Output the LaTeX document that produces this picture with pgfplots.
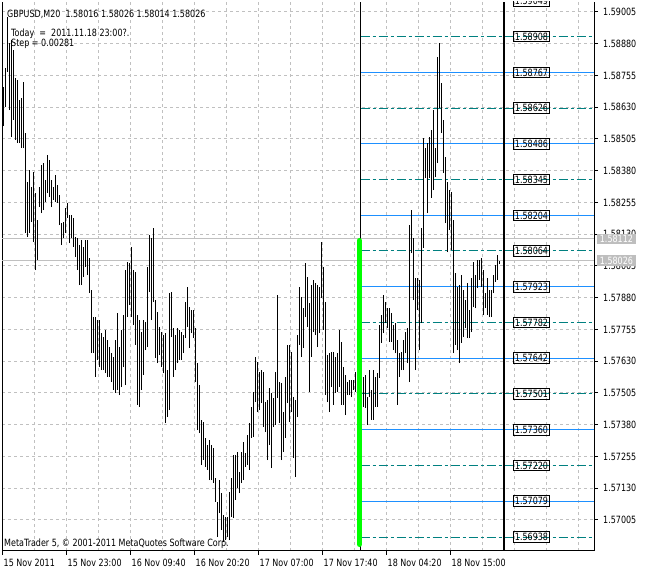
\documentclass[border=0pt]{standalone}
\usepackage{pgfplots}
\pgfplotsset{compat=1.18}
\usepackage{pgfplotstable}
\usepackage{fontspec}
\setmainfont{DejaVu Sans}[FakeStretch=0.8]
\definecolor{gridgray}{RGB}{192,192,192}
\definecolor{boxgray}{RGB}{190,190,190}
\definecolor{lvlblue}{RGB}{30,144,255}
\definecolor{lvlteal}{RGB}{0,128,128}
\definecolor{mtgreen}{RGB}{0,255,0}
\newcommand\mt{\fontsize{10pt}{12pt}\selectfont}
\tikzset{lvlbox/.style={draw=black, line width=1pt, inner xsep=1pt, inner ysep=1.5pt, font=\mt}}

% GBPUSD M20 bars: index, low, high
\pgfplotstableread{
i lo hi
0 1.58556 1.58710
1 1.58631 1.58784
2 1.58769 1.58985
3 1.58619 1.58883
4 1.58513 1.58895
5 1.58580 1.58855
6 1.58501 1.58745
7 1.58489 1.58737
8 1.58489 1.58658
9 1.58469 1.58666
10 1.58469 1.58729
11 1.58135 1.58528
12 1.58119 1.58336
13 1.58135 1.58383
14 1.58178 1.58316
15 1.58099 1.58375
16 1.57989 1.58292
17 1.58028 1.58186
18 1.58237 1.58316
19 1.58213 1.58402
20 1.58225 1.58410
21 1.58257 1.58343
22 1.58292 1.58442
23 1.58276 1.58422
24 1.58237 1.58343
25 1.58265 1.58316
26 1.58257 1.58363
27 1.58253 1.58324
28 1.58166 1.58284
29 1.58087 1.58174
30 1.58115 1.58178
31 1.58135 1.58233
32 1.58194 1.58253
33 1.58095 1.58206
34 1.58115 1.58206
35 1.58080 1.58194
36 1.58040 1.58119
37 1.57989 1.58115
38 1.57930 1.58087
39 1.57930 1.58107
40 1.57962 1.58080
41 1.58001 1.58107
42 1.57969 1.58107
43 1.57898 1.58036
44 1.57662 1.57910
45 1.57662 1.57804
46 1.57568 1.57804
47 1.57635 1.57792
48 1.57607 1.57792
49 1.57595 1.57741
50 1.57595 1.57725
51 1.57583 1.57753
52 1.57568 1.57713
53 1.57568 1.57686
54 1.57548 1.57662
55 1.57517 1.57646
56 1.57505 1.57713
57 1.57517 1.57820
58 1.57497 1.57686
59 1.57528 1.57753
60 1.57607 1.57812
61 1.57536 1.57989
62 1.57804 1.58021
63 1.57851 1.58017
64 1.57804 1.58080
65 1.57773 1.57989
66 1.57694 1.57981
67 1.57458 1.57812
68 1.57450 1.57792
69 1.57517 1.57745
70 1.57576 1.57792
71 1.57674 1.57784
72 1.57686 1.58001
73 1.57902 1.58127
74 1.57792 1.58115
75 1.57863 1.58154
76 1.57643 1.57871
77 1.57623 1.57824
78 1.57654 1.57765
79 1.57607 1.57745
80 1.57583 1.57733
81 1.57387 1.57741
82 1.57410 1.57595
83 1.57438 1.57898
84 1.57725 1.57902
85 1.57568 1.57761
86 1.57595 1.57733
87 1.57623 1.57761
88 1.57635 1.57753
89 1.57635 1.57745
90 1.57662 1.57733
91 1.57721 1.57863
92 1.57765 1.57922
93 1.57682 1.57843
94 1.57741 1.57832
95 1.57721 1.57832
96 1.57548 1.57761
97 1.57359 1.57623
98 1.57347 1.57536
99 1.57221 1.57398
100 1.57241 1.57391
101 1.57213 1.57328
102 1.57202 1.57300
103 1.57162 1.57320
104 1.57162 1.57300
105 1.57150 1.57288
106 1.57076 1.57170
107 1.56938 1.57076
108 1.57032 1.57162
109 1.56965 1.57111
110 1.56918 1.57024
111 1.56926 1.57017
112 1.56938 1.57017
113 1.56926 1.57115
114 1.57017 1.57170
115 1.57013 1.57261
116 1.57084 1.57261
117 1.57131 1.57273
118 1.57111 1.57194
119 1.57150 1.57273
120 1.57162 1.57312
121 1.57213 1.57269
122 1.57221 1.57339
123 1.57202 1.57387
124 1.57328 1.57450
125 1.57332 1.57509
126 1.57469 1.57647
127 1.57430 1.57627
128 1.57438 1.57587
129 1.57465 1.57595
130 1.57371 1.57587
131 1.57351 1.57469
132 1.57241 1.57477
133 1.57300 1.57524
134 1.57209 1.57505
135 1.57371 1.57485
136 1.57379 1.57587
137 1.57485 1.57891
138 1.57387 1.57548
139 1.57241 1.57544
140 1.57273 1.57430
141 1.57328 1.57568
142 1.57465 1.57694
143 1.57391 1.57694
144 1.57430 1.57666
145 1.57249 1.57489
146 1.57174 1.57477
147 1.57410 1.57733
148 1.57694 1.57922
149 1.57647 1.57883
150 1.57682 1.57839
151 1.57804 1.58017
152 1.57765 1.57962
153 1.57509 1.57859
154 1.57647 1.57930
155 1.57745 1.57950
156 1.57733 1.57938
157 1.57686 1.57930
158 1.57741 1.57922
159 1.57879 1.58099
160 1.57753 1.58001
161 1.57497 1.57863
162 1.57469 1.57654
163 1.57430 1.57662
164 1.57528 1.57666
165 1.57458 1.57666
166 1.57505 1.57647
167 1.57509 1.57662
168 1.57528 1.57753
169 1.57458 1.57706
170 1.57458 1.57607
171 1.57418 1.57576
172 1.57497 1.57548
173 1.57497 1.57556
174 1.57489 1.57556
175 1.57517 1.57556
176 1.57509 1.57587
177 1.57509 1.57564
178 1.57548 1.57595
179 1.57544 1.57603
180 1.57450 1.57568
181 1.57446 1.57576
182 1.57379 1.57489
183 1.57489 1.57595
184 1.57399 1.57517
185 1.57399 1.57595
186 1.57450 1.57568
187 1.57450 1.57583
188 1.57564 1.57773
189 1.57702 1.57812
190 1.57741 1.57891
191 1.57780 1.57863
192 1.57761 1.57839
193 1.57706 1.57839
194 1.57706 1.57820
195 1.57674 1.57773
196 1.57662 1.57780
197 1.57458 1.57713
198 1.57568 1.57662
199 1.57595 1.57666
200 1.57595 1.57713
201 1.57662 1.57745
202 1.57623 1.57761
203 1.57548 1.58166
204 1.58056 1.58225
205 1.57871 1.58115
206 1.57595 1.57958
207 1.57832 1.57958
208 1.57674 1.57950
209 1.57780 1.58154
210 1.58076 1.58509
211 1.58351 1.58469
212 1.58213 1.58489
213 1.58351 1.58513
214 1.58273 1.58540
215 1.58304 1.58619
216 1.58355 1.58469
217 1.58410 1.58828
218 1.58627 1.58883
219 1.58528 1.58725
220 1.58371 1.58580
221 1.58174 1.58434
222 1.58060 1.58336
223 1.58147 1.58304
224 1.58068 1.58296
225 1.57662 1.58186
226 1.57694 1.57977
227 1.57674 1.57922
228 1.57623 1.57930
229 1.57702 1.57969
230 1.57725 1.57910
231 1.57761 1.57871
232 1.57721 1.57938
233 1.57721 1.57832
234 1.57745 1.57958
235 1.57843 1.58021
236 1.57839 1.57969
237 1.57918 1.58028
238 1.57950 1.58028
239 1.57922 1.58036
240 1.57812 1.57989
241 1.57839 1.57898
242 1.57812 1.57958
243 1.57804 1.57910
244 1.57804 1.57910
245 1.57898 1.57969
246 1.57942 1.58009
247 1.57950 1.58048
248 1.58014 1.58026
}\bars

\begin{document}
\begin{tikzpicture}[font=\mt]
\path[use as bounding box, fill=white] (-2pt,-21pt) rectangle (645pt,551pt);
\begin{axis}[
  at={(0,0)}, anchor=south west,
  width=592pt, height=549pt, scale only axis,
  xmin=-0.5, xmax=295.5,
  ymin=1.568829, ymax=1.590443,
  axis x line*=bottom, axis y line*=right,
  axis line style={black, line width=1pt},
  tick align=outside,
  major tick length=4pt,
  minor tick length=0pt,
  every tick/.style={black, line width=1pt},
  xtick={-0.5,31.5,63.5,95.5,127.5,159.5,191.5,223.5},
  xticklabels={15 Nov 2011,15 Nov 23:00,16 Nov 09:40,16 Nov 20:20,17 Nov 07:00,17 Nov 17:40,18 Nov 04:20,18 Nov 15:00},
  xticklabel style={anchor=north west, inner sep=0pt, yshift=-4pt, xshift=1.5pt, font=\mt},
  minor xtick={15.5,31.5,...,287.5},
  xminorgrids=true,
  ytick={1.57005,1.57130,1.57255,1.57380,1.57505,1.57630,1.57755,1.57880,1.58005,1.58130,1.58255,1.58380,1.58505,1.58630,1.58755,1.58880,1.59005},
  yticklabel={\pgfmathprintnumber[fixed,fixed zerofill,precision=5]{\tick}},
  yticklabel style={anchor=west, inner sep=0pt, xshift=5pt, font=\mt},
  ymajorgrids=true,
  grid style={gridgray, line width=1pt, dash pattern=on 3pt off 3pt},
  /pgf/number format/assume math mode=true,
]
% left frame
\draw[black, line width=1pt] (rel axis cs:0,0) -- (rel axis cs:0,1);
% bid / ask lines
\addplot[gridgray, line width=1pt] coordinates {(-0.5,1.58112) (295.5,1.58112)};
\addplot[gridgray, line width=1pt] coordinates {(-0.5,1.58026) (295.5,1.58026)};
% grid levels
\pgfplotsinvokeforeach{1.58767,1.58486,1.58204,1.57923,1.57642,1.57360,1.57079}{
  \addplot[lvlblue, line width=1pt] coordinates {(178.75,#1) (295.5,#1)};
}
\pgfplotsinvokeforeach{1.58908,1.58626,1.58345,1.58064,1.57782,1.57501,1.57220,1.56938}{
  \addplot[lvlteal, line width=1pt, dash pattern=on 9pt off 3pt on 3pt off 3pt] coordinates {(178.75,#1) (295.5,#1)};
}
% price bars (high-low)
\addplot[draw=none, mark=none, error bars/.cd, y dir=plus, y explicit, error mark=none,
  error bar style={draw=black, solid, line width=0.85pt}]
  table[x=i, y=lo, y error plus expr=\thisrow{hi}-\thisrow{lo}] {\bars};
% vertical separators
\addplot[black, line width=1.1pt] coordinates {(178.75,1.568829) (178.75,1.590443)};
\addplot[black, line width=1.1pt] coordinates {(250.5,1.568829) (250.5,1.590443)};
% green bar
\addplot[mtgreen, line width=5.3pt, line cap=round] coordinates {(178.25,1.56909) (178.25,1.58105)};
% level labels
\pgfplotsinvokeforeach{1.59049,1.58908,1.58767,1.58626,1.58486,1.58345,1.58204,1.58064,1.57923,1.57782,1.57642,1.57501,1.57360,1.57220,1.57079,1.56938}{
  \node[lvlbox] at (axis cs:264.25,#1) {#1};
}
\coordinate (q1) at (axis cs:295.5,1.58112);
\coordinate (q2) at (axis cs:295.5,1.58026);
\end{axis}
\node[fill=boxgray, text=white, anchor=west, inner xsep=3pt, inner ysep=1.5pt] at ([xshift=2.7pt]q1) {1.58112};
\node[fill=boxgray, text=white, anchor=west, inner xsep=3pt, inner ysep=1.5pt] at ([xshift=2.7pt]q2) {1.58026};
\node[anchor=base west, inner sep=0pt] at (5pt,533pt) {GBPUSD,M20\ \ 1.58016 1.58026 1.58014 1.58026};
\node[anchor=base west, inner sep=0pt] at (9pt,514.3pt) {Today\ \ =\ \ 2011.11.18 23:00?.};
\node[anchor=base west, inner sep=0pt] at (9pt,504.3pt) {Step = 0.00281};
\node[anchor=base west, inner sep=0pt] at (2pt,4pt) {MetaTrader 5, © 2001-2011 MetaQuotes Software Corp.};
\end{tikzpicture}
\end{document}
